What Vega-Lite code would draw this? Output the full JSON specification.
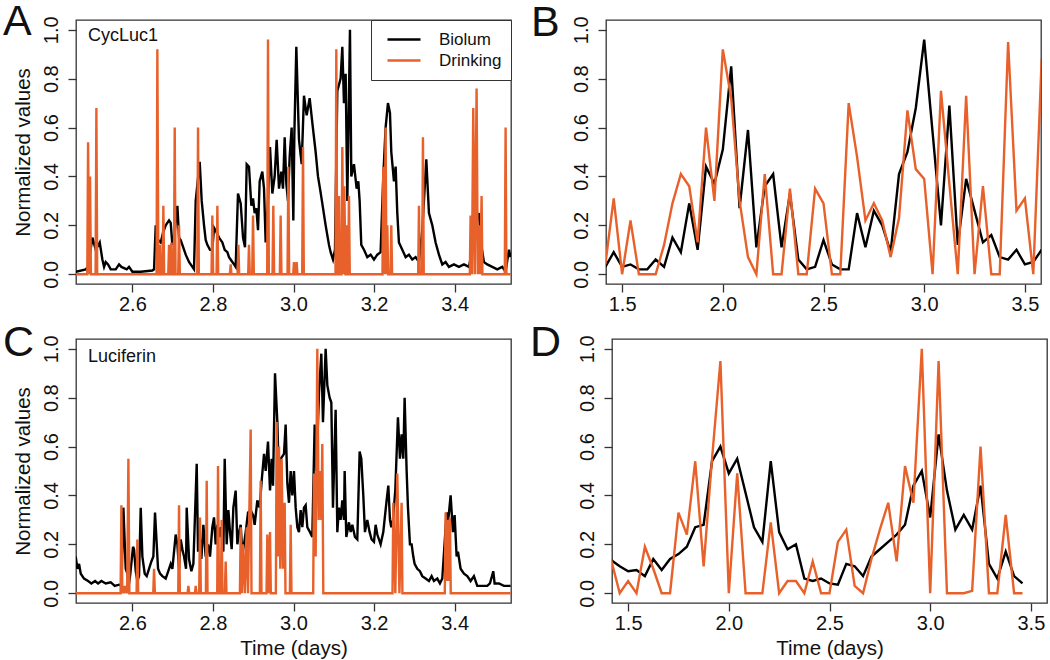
{
  "$schema": "https://vega.github.io/schema/vega-lite/v6.json",
  "autosize": {"type": "pad"},
  "padding": {"left": 2, "top": 0, "right": 0, "bottom": 0},
  "background": "white",
  "config": {
    "font": "Liberation Sans",
    "view": {"stroke": "#333333", "strokeWidth": 1.3},
    "axis": {"domain": false, "grid": false, "tickColor": "#333333", "tickWidth": 1.3, "tickSize": 8, "labelFont": "Liberation Sans", "labelFontSize": 20, "labelColor": "#111111", "titleFont": "Liberation Sans", "titleFontSize": 20.5, "titleFontWeight": "normal", "titleColor": "#111111", "labelPadding": 2, "titlePadding": 5},
    "axisY": {"labelAngle": 270, "labelAlign": "center", "labelBaseline": "bottom", "labelPadding": 7, "titlePadding": 8},
    "title": {"font": "Liberation Sans", "fontSize": 43, "fontWeight": "normal", "anchor": "start", "frame": "group", "color": "#111111", "baseline": "alphabetic", "offset": 0},
    "legend": {"orient": "top-right", "offset": 0, "strokeColor": "#333333", "fillColor": "white", "padding": 9, "symbolOffset": 6, "symbolType": "stroke", "symbolSize": 1089, "symbolStrokeWidth": 2.5, "labelFont": "Liberation Sans", "labelFontSize": 17, "labelColor": "#111111", "labelOffset": 17, "rowPadding": 0, "clipHeight": 21}
  },
  "datasets": {
    "aB": [
      {"t":2.4593,"v":0.01},{"t":2.4842,"v":0.02},{"t":2.4900,"v":0.03},{"t":2.5007,"v":0.15},{"t":2.5090,"v":0.10},{"t":2.5189,"v":0.13},{"t":2.5255,"v":0.06},{"t":2.5297,"v":0.03},{"t":2.5338,"v":0.05},{"t":2.5396,"v":0.04},{"t":2.5462,"v":0.02},{"t":2.5586,"v":0.02},{"t":2.5669,"v":0.04},{"t":2.5727,"v":0.03},{"t":2.5793,"v":0.025},{"t":2.5859,"v":0.02},{"t":2.5917,"v":0.03},{"t":2.6000,"v":0.01},{"t":2.6207,"v":0.01},{"t":2.6496,"v":0.015},{"t":2.6538,"v":0.02},{"t":2.6579,"v":0.20},{"t":2.6637,"v":0.14},{"t":2.6703,"v":0.13},{"t":2.6761,"v":0.17},{"t":2.6827,"v":0.20},{"t":2.6910,"v":0.22},{"t":2.6951,"v":0.21},{"t":2.6993,"v":0.12},{"t":2.7051,"v":0.17},{"t":2.7117,"v":0.28},{"t":2.7158,"v":0.15},{"t":2.7199,"v":0.14},{"t":2.7241,"v":0.12},{"t":2.7324,"v":0.08},{"t":2.7406,"v":0.05},{"t":2.7489,"v":0.03},{"t":2.7530,"v":0.02},{"t":2.7572,"v":0.30},{"t":2.7671,"v":0.46},{"t":2.7721,"v":0.30},{"t":2.7779,"v":0.20},{"t":2.7820,"v":0.14},{"t":2.7861,"v":0.12},{"t":2.7927,"v":0.10},{"t":2.7985,"v":0.10},{"t":2.8027,"v":0.19},{"t":2.8093,"v":0.17},{"t":2.8151,"v":0.15},{"t":2.8234,"v":0.13},{"t":2.8292,"v":0.10},{"t":2.8358,"v":0.09},{"t":2.8399,"v":0.07},{"t":2.8482,"v":0.05},{"t":2.8523,"v":0.04},{"t":2.8564,"v":0.03},{"t":2.8622,"v":0.33},{"t":2.8689,"v":0.29},{"t":2.8747,"v":0.15},{"t":2.8796,"v":0.11},{"t":2.8838,"v":0.45},{"t":2.8895,"v":0.44},{"t":2.8953,"v":0.28},{"t":2.8995,"v":0.31},{"t":2.9036,"v":0.25},{"t":2.9077,"v":0.27},{"t":2.9119,"v":0.18},{"t":2.9160,"v":0.38},{"t":2.9226,"v":0.42},{"t":2.9268,"v":0.35},{"t":2.9309,"v":0.13},{"t":2.9367,"v":0.30},{"t":2.9417,"v":0.52},{"t":2.9475,"v":0.33},{"t":2.9532,"v":0.40},{"t":2.9582,"v":0.55},{"t":2.9640,"v":0.35},{"t":2.9698,"v":0.42},{"t":2.9739,"v":0.35},{"t":2.9781,"v":0.56},{"t":2.9822,"v":0.37},{"t":2.9863,"v":0.30},{"t":2.9905,"v":0.48},{"t":2.9954,"v":0.60},{"t":2.9996,"v":0.22},{"t":3.0021,"v":0.57},{"t":3.0070,"v":0.93},{"t":3.0136,"v":0.55},{"t":3.0203,"v":0.45},{"t":3.0260,"v":0.73},{"t":3.0327,"v":0.65},{"t":3.0401,"v":0.72},{"t":3.0467,"v":0.62},{"t":3.0550,"v":0.50},{"t":3.0608,"v":0.40},{"t":3.0658,"v":0.35},{"t":3.0715,"v":0.29},{"t":3.0798,"v":0.20},{"t":3.0881,"v":0.12},{"t":3.0922,"v":0.09},{"t":3.0980,"v":0.06},{"t":3.1030,"v":0.10},{"t":3.1088,"v":0.75},{"t":3.1170,"v":0.80},{"t":3.1212,"v":0.93},{"t":3.1253,"v":0.70},{"t":3.1295,"v":0.82},{"t":3.1336,"v":0.30},{"t":3.1402,"v":1.00},{"t":3.1435,"v":0.40},{"t":3.1501,"v":0.45},{"t":3.1568,"v":0.35},{"t":3.1609,"v":0.38},{"t":3.1642,"v":0.30},{"t":3.1683,"v":0.12},{"t":3.1750,"v":0.10},{"t":3.1832,"v":0.07},{"t":3.1915,"v":0.08},{"t":3.1998,"v":0.06},{"t":3.2081,"v":0.08},{"t":3.2163,"v":0.09},{"t":3.2229,"v":0.40},{"t":3.2287,"v":0.60},{"t":3.2345,"v":0.70},{"t":3.2395,"v":0.66},{"t":3.2428,"v":0.50},{"t":3.2494,"v":0.38},{"t":3.2536,"v":0.44},{"t":3.2577,"v":0.25},{"t":3.2618,"v":0.13},{"t":3.2701,"v":0.10},{"t":3.2784,"v":0.07},{"t":3.2866,"v":0.08},{"t":3.2949,"v":0.06},{"t":3.3032,"v":0.07},{"t":3.3115,"v":0.05},{"t":3.3197,"v":0.18},{"t":3.3297,"v":0.47},{"t":3.3363,"v":0.25},{"t":3.3446,"v":0.20},{"t":3.3528,"v":0.13},{"t":3.3611,"v":0.08},{"t":3.3694,"v":0.04},{"t":3.3776,"v":0.05},{"t":3.3859,"v":0.03},{"t":3.3983,"v":0.04},{"t":3.4107,"v":0.03},{"t":3.4232,"v":0.04},{"t":3.4356,"v":0.03},{"t":3.4438,"v":0.10},{"t":3.4521,"v":0.20},{"t":3.4604,"v":0.25},{"t":3.4662,"v":0.12},{"t":3.4728,"v":0.05},{"t":3.4811,"v":0.04},{"t":3.4935,"v":0.03},{"t":3.5059,"v":0.02},{"t":3.5183,"v":0.03},{"t":3.5266,"v":0.01},{"t":3.5348,"v":0.10},{"t":3.5390,"v":0.07}
    ],
    "aD": [
      {"t":2.4593,"v":0},{"t":2.4880,"v":0},{"t":2.4900,"v":0.54},{"t":2.4925,"v":0},{"t":2.4949,"v":0.40},{"t":2.4970,"v":0},{"t":2.5086,"v":0},{"t":2.5106,"v":0.68},{"t":2.5126,"v":0},{"t":2.6600,"v":0},{"t":2.6620,"v":0.92},{"t":2.6645,"v":0},{"t":2.6667,"v":0},{"t":2.6687,"v":0.12},{"t":2.6707,"v":0},{"t":2.6749,"v":0},{"t":2.6769,"v":0.28},{"t":2.6789,"v":0},{"t":2.6890,"v":0},{"t":2.6910,"v":0.12},{"t":2.6935,"v":0},{"t":2.6948,"v":0},{"t":2.6968,"v":0.13},{"t":2.6988,"v":0},{"t":2.7031,"v":0},{"t":2.7051,"v":0.60},{"t":2.7071,"v":0},{"t":2.7138,"v":0},{"t":2.7158,"v":0.20},{"t":2.7178,"v":0},{"t":2.7610,"v":0},{"t":2.7630,"v":0.60},{"t":2.7650,"v":0},{"t":2.7965,"v":0},{"t":2.7985,"v":0.24},{"t":2.8005,"v":0},{"t":2.8090,"v":0},{"t":2.8110,"v":0.28},{"t":2.8130,"v":0},{"t":2.8420,"v":0},{"t":2.8440,"v":0.04},{"t":2.8460,"v":0},{"t":2.8611,"v":0},{"t":2.8631,"v":0.12},{"t":2.8651,"v":0},{"t":2.8875,"v":0},{"t":2.8895,"v":0.12},{"t":2.8915,"v":0},{"t":2.8975,"v":0},{"t":2.8995,"v":0.24},{"t":2.9015,"v":0},{"t":2.9347,"v":0},{"t":2.9367,"v":0.96},{"t":2.9387,"v":0},{"t":2.9479,"v":0},{"t":2.9499,"v":0.28},{"t":2.9519,"v":0},{"t":2.9661,"v":0},{"t":2.9681,"v":0.24},{"t":2.9701,"v":0},{"t":2.9852,"v":0},{"t":2.9872,"v":0.44},{"t":2.9892,"v":0},{"t":2.9992,"v":0},{"t":3.0012,"v":0.05},{"t":3.0032,"v":0},{"t":3.0058,"v":0},{"t":3.0078,"v":0.05},{"t":3.0098,"v":0},{"t":3.0216,"v":0},{"t":3.0236,"v":0.52},{"t":3.0256,"v":0},{"t":3.1043,"v":0},{"t":3.1063,"v":0.92},{"t":3.1085,"v":0},{"t":3.1109,"v":0},{"t":3.1129,"v":0.32},{"t":3.1150,"v":0},{"t":3.1192,"v":0},{"t":3.1212,"v":0.52},{"t":3.1237,"v":0},{"t":3.1262,"v":0.36},{"t":3.1290,"v":0},{"t":3.1300,"v":0},{"t":3.1320,"v":0.20},{"t":3.1340,"v":0},{"t":3.1357,"v":0},{"t":3.1377,"v":0.32},{"t":3.1397,"v":0},{"t":3.2209,"v":0},{"t":3.2229,"v":0.44},{"t":3.2258,"v":0},{"t":3.2287,"v":0.60},{"t":3.2308,"v":0},{"t":3.2329,"v":0.20},{"t":3.2350,"v":0},{"t":3.2408,"v":0},{"t":3.2428,"v":0.20},{"t":3.2448,"v":0},{"t":3.3095,"v":0},{"t":3.3115,"v":0.28},{"t":3.3135,"v":0},{"t":3.3194,"v":0},{"t":3.3214,"v":0.56},{"t":3.3234,"v":0},{"t":3.4377,"v":0},{"t":3.4397,"v":0.24},{"t":3.4430,"v":0},{"t":3.4463,"v":0.68},{"t":3.4500,"v":0},{"t":3.4546,"v":0.76},{"t":3.4575,"v":0},{"t":3.4604,"v":0.20},{"t":3.4637,"v":0},{"t":3.4670,"v":0.32},{"t":3.4690,"v":0},{"t":3.5246,"v":0},{"t":3.5266,"v":0.60},{"t":3.5286,"v":0},{"t":3.5390,"v":0}
    ],
    "bB": [
      {"t":1.4167,"v":0.03},{"t":1.4583,"v":0.09},{"t":1.5000,"v":0.03},{"t":1.5417,"v":0.04},{"t":1.5833,"v":0.02},{"t":1.6250,"v":0.02},{"t":1.6667,"v":0.06},{"t":1.7083,"v":0.03},{"t":1.7500,"v":0.15},{"t":1.7917,"v":0.09},{"t":1.8333,"v":0.29},{"t":1.8750,"v":0.10},{"t":1.9167,"v":0.44},{"t":1.9583,"v":0.37},{"t":2.0000,"v":0.51},{"t":2.0417,"v":0.85},{"t":2.0833,"v":0.27},{"t":2.1250,"v":0.59},{"t":2.1667,"v":0.11},{"t":2.2083,"v":0.36},{"t":2.2500,"v":0.41},{"t":2.2917,"v":0.11},{"t":2.3333,"v":0.33},{"t":2.3750,"v":0.06},{"t":2.4167,"v":0.02},{"t":2.4583,"v":0.03},{"t":2.5000,"v":0.14},{"t":2.5417,"v":0.04},{"t":2.5833,"v":0.02},{"t":2.6250,"v":0.02},{"t":2.6667,"v":0.25},{"t":2.7083,"v":0.11},{"t":2.7500,"v":0.26},{"t":2.7917,"v":0.20},{"t":2.8333,"v":0.09},{"t":2.8750,"v":0.41},{"t":2.9167,"v":0.50},{"t":2.9583,"v":0.68},{"t":3.0000,"v":0.96},{"t":3.0417,"v":0.58},{"t":3.0833,"v":0.20},{"t":3.1250,"v":0.69},{"t":3.1667,"v":0.12},{"t":3.2083,"v":0.39},{"t":3.2500,"v":0.26},{"t":3.2917,"v":0.13},{"t":3.3333,"v":0.16},{"t":3.3750,"v":0.07},{"t":3.4167,"v":0.06},{"t":3.4583,"v":0.10},{"t":3.5000,"v":0.04},{"t":3.5417,"v":0.05},{"t":3.5833,"v":0.10}
    ],
    "bD": [
      {"t":1.4167,"v":0.04},{"t":1.4583,"v":0.31},{"t":1.5000,"v":0},{"t":1.5417,"v":0.22},{"t":1.5833,"v":0},{"t":1.6250,"v":0},{"t":1.6667,"v":0},{"t":1.7083,"v":0.12},{"t":1.7500,"v":0.29},{"t":1.7917,"v":0.41},{"t":1.8333,"v":0.36},{"t":1.8750,"v":0.13},{"t":1.9167,"v":0.60},{"t":1.9583,"v":0.30},{"t":2.0000,"v":0.92},{"t":2.0417,"v":0.72},{"t":2.0833,"v":0.30},{"t":2.1250,"v":0.07},{"t":2.1667,"v":0},{"t":2.2083,"v":0.41},{"t":2.2500,"v":0},{"t":2.2917,"v":0},{"t":2.3333,"v":0.35},{"t":2.3750,"v":0},{"t":2.4167,"v":0},{"t":2.4583,"v":0.35},{"t":2.5000,"v":0.29},{"t":2.5417,"v":0},{"t":2.5833,"v":0},{"t":2.6250,"v":0.70},{"t":2.6667,"v":0.48},{"t":2.7083,"v":0.22},{"t":2.7500,"v":0.29},{"t":2.7917,"v":0.22},{"t":2.8333,"v":0.07},{"t":2.8750,"v":0.23},{"t":2.9167,"v":0.67},{"t":2.9583,"v":0.43},{"t":3.0000,"v":0.39},{"t":3.0417,"v":0},{"t":3.0833,"v":0.75},{"t":3.1250,"v":0.37},{"t":3.1667,"v":0},{"t":3.2083,"v":0.73},{"t":3.2500,"v":0},{"t":3.2917,"v":0.36},{"t":3.3333,"v":0},{"t":3.3750,"v":0},{"t":3.4167,"v":0.95},{"t":3.4583,"v":0.26},{"t":3.5000,"v":0.31},{"t":3.5417,"v":0},{"t":3.5833,"v":0.88}
    ],
    "cB": [
      {"t":2.4593,"v":0.15},{"t":2.4635,"v":0.10},{"t":2.4676,"v":0.12},{"t":2.4718,"v":0.08},{"t":2.4800,"v":0.06},{"t":2.4900,"v":0.05},{"t":2.4982,"v":0.04},{"t":2.5073,"v":0.05},{"t":2.5148,"v":0.04},{"t":2.5230,"v":0.05},{"t":2.5338,"v":0.04},{"t":2.5462,"v":0.045},{"t":2.5561,"v":0.03},{"t":2.5669,"v":0.035},{"t":2.5727,"v":0.03},{"t":2.5777,"v":0.35},{"t":2.5834,"v":0.10},{"t":2.5876,"v":0.08},{"t":2.5909,"v":0.03},{"t":2.5942,"v":0.07},{"t":2.6016,"v":0.19},{"t":2.6041,"v":0.18},{"t":2.6083,"v":0.09},{"t":2.6124,"v":0.05},{"t":2.6165,"v":0.07},{"t":2.6207,"v":0.35},{"t":2.6248,"v":0.15},{"t":2.6306,"v":0.08},{"t":2.6356,"v":0.07},{"t":2.6413,"v":0.10},{"t":2.6471,"v":0.13},{"t":2.6521,"v":0.15},{"t":2.6562,"v":0.33},{"t":2.6604,"v":0.20},{"t":2.6637,"v":0.10},{"t":2.6687,"v":0.08},{"t":2.6744,"v":0.07},{"t":2.6827,"v":0.06},{"t":2.6910,"v":0.10},{"t":2.6951,"v":0.12},{"t":2.6993,"v":0.10},{"t":2.7075,"v":0.24},{"t":2.7117,"v":0.20},{"t":2.7158,"v":0.10},{"t":2.7199,"v":0.22},{"t":2.7241,"v":0.18},{"t":2.7282,"v":0.15},{"t":2.7332,"v":0.10},{"t":2.7348,"v":0.35},{"t":2.7406,"v":0.14},{"t":2.7464,"v":0.09},{"t":2.7514,"v":0.12},{"t":2.7597,"v":0.53},{"t":2.7630,"v":0.17},{"t":2.7679,"v":0.22},{"t":2.7712,"v":0.14},{"t":2.7762,"v":0.28},{"t":2.7820,"v":0.15},{"t":2.7878,"v":0.20},{"t":2.7927,"v":0.15},{"t":2.7985,"v":0.27},{"t":2.8027,"v":0.31},{"t":2.8068,"v":0.20},{"t":2.8110,"v":0.28},{"t":2.8151,"v":0.23},{"t":2.8192,"v":0.27},{"t":2.8258,"v":0.17},{"t":2.8292,"v":0.55},{"t":2.8341,"v":0.20},{"t":2.8383,"v":0.34},{"t":2.8424,"v":0.25},{"t":2.8465,"v":0.18},{"t":2.8507,"v":0.35},{"t":2.8564,"v":0.42},{"t":2.8606,"v":0.20},{"t":2.8647,"v":0.25},{"t":2.8689,"v":0.28},{"t":2.8730,"v":0.16},{"t":2.8771,"v":0.20},{"t":2.8813,"v":0.25},{"t":2.8871,"v":0.33},{"t":2.8937,"v":0.34},{"t":2.8995,"v":0.32},{"t":2.9036,"v":0.28},{"t":2.9102,"v":0.38},{"t":2.9160,"v":0.35},{"t":2.9210,"v":0.46},{"t":2.9268,"v":0.57},{"t":2.9309,"v":0.50},{"t":2.9367,"v":0.62},{"t":2.9417,"v":0.42},{"t":2.9458,"v":0.55},{"t":2.9491,"v":0.44},{"t":2.9541,"v":0.90},{"t":2.9599,"v":0.70},{"t":2.9640,"v":0.45},{"t":2.9681,"v":0.55},{"t":2.9723,"v":0.56},{"t":2.9764,"v":0.57},{"t":2.9805,"v":0.69},{"t":2.9847,"v":0.45},{"t":2.9888,"v":0.37},{"t":2.9930,"v":0.50},{"t":2.9971,"v":0.40},{"t":3.0012,"v":0.50},{"t":3.0054,"v":0.35},{"t":3.0095,"v":0.27},{"t":3.0136,"v":0.25},{"t":3.0178,"v":0.34},{"t":3.0219,"v":0.27},{"t":3.0260,"v":0.35},{"t":3.0302,"v":0.36},{"t":3.0343,"v":0.27},{"t":3.0409,"v":0.25},{"t":3.0467,"v":0.23},{"t":3.0525,"v":0.69},{"t":3.0567,"v":0.50},{"t":3.0633,"v":0.82},{"t":3.0691,"v":0.98},{"t":3.0732,"v":0.70},{"t":3.0798,"v":1.00},{"t":3.0840,"v":0.85},{"t":3.0897,"v":0.80},{"t":3.0939,"v":0.78},{"t":3.0980,"v":0.35},{"t":3.1046,"v":0.75},{"t":3.1088,"v":0.25},{"t":3.1129,"v":0.35},{"t":3.1170,"v":0.30},{"t":3.1212,"v":0.38},{"t":3.1253,"v":0.30},{"t":3.1270,"v":0.50},{"t":3.1311,"v":0.23},{"t":3.1377,"v":0.29},{"t":3.1419,"v":0.25},{"t":3.1460,"v":0.28},{"t":3.1526,"v":0.23},{"t":3.1584,"v":0.22},{"t":3.1642,"v":0.58},{"t":3.1683,"v":0.55},{"t":3.1733,"v":0.40},{"t":3.1774,"v":0.25},{"t":3.1832,"v":0.30},{"t":3.1890,"v":0.25},{"t":3.1940,"v":0.22},{"t":3.1998,"v":0.21},{"t":3.2039,"v":0.28},{"t":3.2081,"v":0.24},{"t":3.2163,"v":0.20},{"t":3.2229,"v":0.25},{"t":3.2312,"v":0.38},{"t":3.2354,"v":0.44},{"t":3.2395,"v":0.30},{"t":3.2428,"v":0.27},{"t":3.2469,"v":0.30},{"t":3.2527,"v":0.42},{"t":3.2593,"v":0.72},{"t":3.2643,"v":0.55},{"t":3.2684,"v":0.65},{"t":3.2726,"v":0.55},{"t":3.2759,"v":0.80},{"t":3.2809,"v":0.50},{"t":3.2842,"v":0.35},{"t":3.2891,"v":0.20},{"t":3.2933,"v":0.20},{"t":3.2974,"v":0.15},{"t":3.3007,"v":0.12},{"t":3.3073,"v":0.10},{"t":3.3139,"v":0.09},{"t":3.3197,"v":0.07},{"t":3.3280,"v":0.06},{"t":3.3363,"v":0.05},{"t":3.3429,"v":0.07},{"t":3.3487,"v":0.05},{"t":3.3570,"v":0.06},{"t":3.3636,"v":0.04},{"t":3.3694,"v":0.06},{"t":3.3801,"v":0.33},{"t":3.3843,"v":0.30},{"t":3.3901,"v":0.40},{"t":3.3958,"v":0.25},{"t":3.4000,"v":0.32},{"t":3.4050,"v":0.15},{"t":3.4083,"v":0.17},{"t":3.4149,"v":0.10},{"t":3.4232,"v":0.08},{"t":3.4314,"v":0.07},{"t":3.4397,"v":0.05},{"t":3.4480,"v":0.07},{"t":3.4562,"v":0.03},{"t":3.4687,"v":0.03},{"t":3.4811,"v":0.03},{"t":3.4877,"v":0.04},{"t":3.4960,"v":0.09},{"t":3.4993,"v":0.04},{"t":3.5100,"v":0.04},{"t":3.5224,"v":0.03},{"t":3.5390,"v":0.03}
    ],
    "cD": [
      {"t":2.4593,"v":0},{"t":2.5707,"v":0},{"t":2.5727,"v":0.36},{"t":2.5750,"v":0},{"t":2.5777,"v":0.03},{"t":2.5800,"v":0},{"t":2.5834,"v":0.03},{"t":2.5870,"v":0},{"t":2.5901,"v":0.55},{"t":2.5925,"v":0},{"t":2.6104,"v":0},{"t":2.6124,"v":0.22},{"t":2.6144,"v":0},{"t":2.6518,"v":0},{"t":2.6538,"v":0.10},{"t":2.6558,"v":0},{"t":2.7138,"v":0},{"t":2.7158,"v":0.36},{"t":2.7178,"v":0},{"t":2.7370,"v":0},{"t":2.7390,"v":0.03},{"t":2.7410,"v":0},{"t":2.7552,"v":0},{"t":2.7572,"v":0.03},{"t":2.7592,"v":0},{"t":2.7659,"v":0},{"t":2.7679,"v":0.31},{"t":2.7699,"v":0},{"t":2.7825,"v":0},{"t":2.7845,"v":0.46},{"t":2.7865,"v":0},{"t":2.8106,"v":0},{"t":2.8126,"v":0.52},{"t":2.8150,"v":0},{"t":2.8197,"v":0},{"t":2.8217,"v":0.30},{"t":2.8237,"v":0},{"t":2.8296,"v":0},{"t":2.8316,"v":0.13},{"t":2.8336,"v":0},{"t":2.8669,"v":0},{"t":2.8689,"v":0.27},{"t":2.8715,"v":0},{"t":2.8747,"v":0.20},{"t":2.8790,"v":0},{"t":2.8838,"v":0.27},{"t":2.8870,"v":0},{"t":2.8937,"v":0.67},{"t":2.8957,"v":0},{"t":2.9165,"v":0},{"t":2.9185,"v":0.46},{"t":2.9205,"v":0},{"t":2.9330,"v":0},{"t":2.9350,"v":0.24},{"t":2.9385,"v":0},{"t":2.9417,"v":0.25},{"t":2.9437,"v":0},{"t":2.9562,"v":0},{"t":2.9582,"v":0.70},{"t":2.9610,"v":0.15},{"t":2.9640,"v":0.60},{"t":2.9672,"v":0.10},{"t":2.9706,"v":0.55},{"t":2.9740,"v":0.10},{"t":2.9781,"v":0.37},{"t":2.9801,"v":0},{"t":2.9910,"v":0},{"t":2.9930,"v":0.28},{"t":2.9950,"v":0},{"t":3.0489,"v":0},{"t":3.0509,"v":0.49},{"t":3.0550,"v":0.15},{"t":3.0591,"v":1.00},{"t":3.0625,"v":0.30},{"t":3.0658,"v":0.50},{"t":3.0690,"v":0.30},{"t":3.0715,"v":0.61},{"t":3.0740,"v":0},{"t":3.2458,"v":0},{"t":3.2478,"v":0.37},{"t":3.2528,"v":0},{"t":3.2577,"v":0.49},{"t":3.2630,"v":0},{"t":3.2684,"v":0.37},{"t":3.2704,"v":0},{"t":3.3756,"v":0},{"t":3.3776,"v":0.33},{"t":3.3810,"v":0.05},{"t":3.3843,"v":0.30},{"t":3.3862,"v":0.05},{"t":3.3884,"v":0.31},{"t":3.3904,"v":0},{"t":3.5390,"v":0}
    ],
    "dB": [
      {"t":1.4167,"v":0.135},{"t":1.4583,"v":0.11},{"t":1.5000,"v":0.09},{"t":1.5417,"v":0.095},{"t":1.5833,"v":0.07},{"t":1.6250,"v":0.14},{"t":1.6667,"v":0.095},{"t":1.7083,"v":0.14},{"t":1.7500,"v":0.16},{"t":1.7917,"v":0.19},{"t":1.8333,"v":0.27},{"t":1.8750,"v":0.28},{"t":1.9167,"v":0.54},{"t":1.9583,"v":0.60},{"t":2.0000,"v":0.49},{"t":2.0417,"v":0.55},{"t":2.0833,"v":0.41},{"t":2.1250,"v":0.27},{"t":2.1667,"v":0.21},{"t":2.2083,"v":0.54},{"t":2.2500,"v":0.25},{"t":2.2917,"v":0.18},{"t":2.3333,"v":0.20},{"t":2.3750,"v":0.06},{"t":2.4167,"v":0.05},{"t":2.4583,"v":0.06},{"t":2.5000,"v":0.04},{"t":2.5417,"v":0.035},{"t":2.5833,"v":0.12},{"t":2.6250,"v":0.11},{"t":2.6667,"v":0.07},{"t":2.7083,"v":0.15},{"t":2.7500,"v":0.18},{"t":2.7917,"v":0.21},{"t":2.8333,"v":0.24},{"t":2.8750,"v":0.28},{"t":2.9167,"v":0.44},{"t":2.9583,"v":0.50},{"t":3.0000,"v":0.31},{"t":3.0417,"v":0.65},{"t":3.0833,"v":0.42},{"t":3.1250,"v":0.26},{"t":3.1667,"v":0.32},{"t":3.2083,"v":0.26},{"t":3.2500,"v":0.44},{"t":3.2917,"v":0.12},{"t":3.3333,"v":0.06},{"t":3.3750,"v":0.17},{"t":3.4167,"v":0.07},{"t":3.4583,"v":0.04}
    ],
    "dD": [
      {"t":1.4167,"v":0.134},{"t":1.4583,"v":0},{"t":1.5000,"v":0.05},{"t":1.5417,"v":0},{"t":1.5833,"v":0.19},{"t":1.6250,"v":0.10},{"t":1.6667,"v":0},{"t":1.7083,"v":0},{"t":1.7500,"v":0.33},{"t":1.7917,"v":0.24},{"t":1.8333,"v":0.54},{"t":1.8750,"v":0.11},{"t":1.9167,"v":0.55},{"t":1.9583,"v":0.95},{"t":2.0000,"v":0},{"t":2.0417,"v":0.49},{"t":2.0833,"v":0},{"t":2.1250,"v":0},{"t":2.1667,"v":0},{"t":2.2083,"v":0.29},{"t":2.2500,"v":0},{"t":2.2917,"v":0.05},{"t":2.3333,"v":0.05},{"t":2.3750,"v":0},{"t":2.4167,"v":0.13},{"t":2.4583,"v":0},{"t":2.5000,"v":0},{"t":2.5417,"v":0.21},{"t":2.5833,"v":0.26},{"t":2.6250,"v":0.03},{"t":2.6667,"v":0},{"t":2.7083,"v":0.14},{"t":2.7500,"v":0.26},{"t":2.7917,"v":0.37},{"t":2.8333,"v":0.13},{"t":2.8750,"v":0.52},{"t":2.9167,"v":0.37},{"t":2.9583,"v":1.00},{"t":3.0000,"v":0},{"t":3.0417,"v":0.95},{"t":3.0833,"v":0},{"t":3.1250,"v":0},{"t":3.1667,"v":0},{"t":3.2083,"v":0.01},{"t":3.2500,"v":0.60},{"t":3.2917,"v":0},{"t":3.3333,"v":0},{"t":3.3750,"v":0.32},{"t":3.4167,"v":0},{"t":3.4583,"v":0}
    ]
  },
  "spacing": 6,
  "resolve": {"scale": {"color": "independent"}, "legend": {"color": "independent"}},
  "vconcat": [
    {
      "spacing": 17,
      "resolve": {"scale": {"color": "independent"}, "legend": {"color": "independent"}},
      "hconcat": [
        {
          "width": 435, "height": 264,
          "title": {"text": "A", "dx": -73, "dy": 32},
          "layer": [
            {
              "data": {"name": "aB"},
              "mark": {"type": "line", "strokeWidth": 2.4, "clip": true},
              "encoding": {
                "x": {"field": "t", "type": "quantitative", "scale": {"domain": [2.46, 3.54], "nice": false, "zero": false}, "axis": {"title": null, "values": [2.6, 2.8, 3.0, 3.2, 3.4], "format": ".1f"}},
                "y": {"field": "v", "type": "quantitative", "scale": {"domain": [-0.04, 1.04], "nice": false, "zero": false}, "axis": {"title": "Normalized values", "values": [0, 0.2, 0.4, 0.6, 0.8, 1], "format": ".1f"}},
                "color": {"datum": "Biolum", "type": "nominal", "scale": {"domain": ["Biolum", "Drinking"], "range": ["#000000", "#E8602A"]}, "legend": {"title": null}}
              }
            },
            {
              "data": {"name": "aD"},
              "mark": {"type": "line", "strokeWidth": 2.4, "clip": true},
              "encoding": {
                "x": {"field": "t", "type": "quantitative"},
                "y": {"field": "v", "type": "quantitative"},
                "color": {"datum": "Drinking", "type": "nominal"}
              }
            },
            {
              "data": {"values": [{"label": "CycLuc1"}]},
              "mark": {"type": "text", "align": "left", "baseline": "alphabetic", "fontSize": 18, "font": "Liberation Sans", "color": "#111111"},
              "encoding": {
                "x": {"datum": 2.4898, "type": "quantitative"},
                "y": {"datum": 0.954, "type": "quantitative"},
                "text": {"field": "label"}
              }
            }
          ]
        },
        {
          "width": 435, "height": 264,
          "title": {"text": "B", "dx": -75, "dy": 33},
          "layer": [
            {
              "data": {"name": "bB"},
              "mark": {"type": "line", "strokeWidth": 2.4, "clip": true, "color": "#000000"},
              "encoding": {
                "x": {"field": "t", "type": "quantitative", "scale": {"domain": [1.42, 3.58], "nice": false, "zero": false}, "axis": {"title": null, "values": [1.5, 2.0, 2.5, 3.0, 3.5], "format": ".1f"}},
                "y": {"field": "v", "type": "quantitative", "scale": {"domain": [-0.04, 1.04], "nice": false, "zero": false}, "axis": {"title": null, "values": [0, 0.2, 0.4, 0.6, 0.8, 1], "format": ".1f"}}
              }
            },
            {
              "data": {"name": "bD"},
              "mark": {"type": "line", "strokeWidth": 2.4, "clip": true, "color": "#E8602A"},
              "encoding": {
                "x": {"field": "t", "type": "quantitative"},
                "y": {"field": "v", "type": "quantitative"}
              }
            }
          ]
        }
      ]
    },
    {
      "spacing": 17,
      "resolve": {"scale": {"color": "independent"}, "legend": {"color": "independent"}},
      "hconcat": [
        {
          "width": 435, "height": 264,
          "title": {"text": "C", "dx": -73, "dy": 34},
          "layer": [
            {
              "data": {"name": "cB"},
              "mark": {"type": "line", "strokeWidth": 2.4, "clip": true, "color": "#000000"},
              "encoding": {
                "x": {"field": "t", "type": "quantitative", "scale": {"domain": [2.46, 3.54], "nice": false, "zero": false}, "axis": {"title": "Time (days)", "values": [2.6, 2.8, 3.0, 3.2, 3.4], "format": ".1f"}},
                "y": {"field": "v", "type": "quantitative", "scale": {"domain": [-0.04, 1.04], "nice": false, "zero": false}, "axis": {"title": "Normalized values", "values": [0, 0.2, 0.4, 0.6, 0.8, 1], "format": ".1f"}}
              }
            },
            {
              "data": {"name": "cD"},
              "mark": {"type": "line", "strokeWidth": 2.4, "clip": true, "color": "#E8602A"},
              "encoding": {
                "x": {"field": "t", "type": "quantitative"},
                "y": {"field": "v", "type": "quantitative"}
              }
            },
            {
              "data": {"values": [{"label": "Luciferin"}]},
              "mark": {"type": "text", "align": "left", "baseline": "alphabetic", "fontSize": 18, "font": "Liberation Sans", "color": "#111111"},
              "encoding": {
                "x": {"datum": 2.4898, "type": "quantitative"},
                "y": {"datum": 0.946, "type": "quantitative"},
                "text": {"field": "label"}
              }
            }
          ]
        },
        {
          "width": 435, "height": 264,
          "title": {"text": "D", "dx": -82, "dy": 34},
          "layer": [
            {
              "data": {"name": "dB"},
              "mark": {"type": "line", "strokeWidth": 2.4, "clip": true, "color": "#000000"},
              "encoding": {
                "x": {"field": "t", "type": "quantitative", "scale": {"domain": [1.42, 3.58], "nice": false, "zero": false}, "axis": {"title": "Time (days)", "values": [1.5, 2.0, 2.5, 3.0, 3.5], "format": ".1f"}},
                "y": {"field": "v", "type": "quantitative", "scale": {"domain": [-0.04, 1.04], "nice": false, "zero": false}, "axis": {"title": null, "values": [0, 0.2, 0.4, 0.6, 0.8, 1], "format": ".1f"}}
              }
            },
            {
              "data": {"name": "dD"},
              "mark": {"type": "line", "strokeWidth": 2.4, "clip": true, "color": "#E8602A"},
              "encoding": {
                "x": {"field": "t", "type": "quantitative"},
                "y": {"field": "v", "type": "quantitative"}
              }
            }
          ]
        }
      ]
    }
  ]
}
